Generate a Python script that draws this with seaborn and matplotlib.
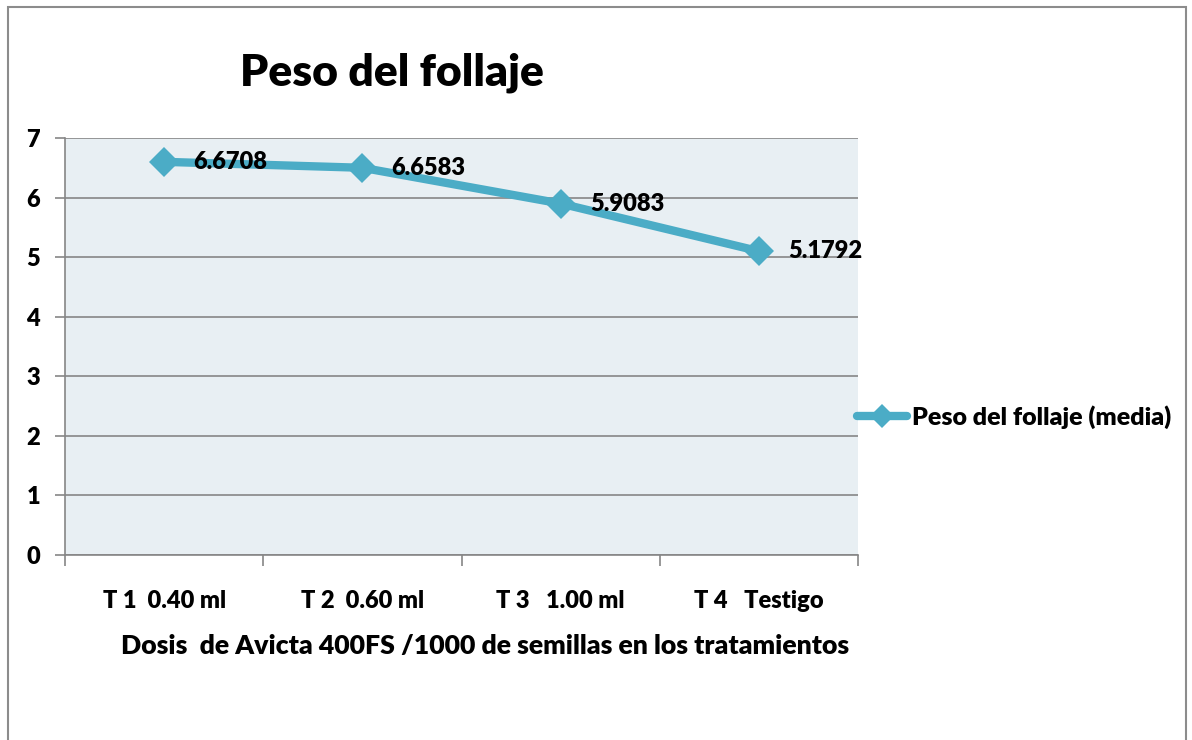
import matplotlib
matplotlib.use('Agg')
import matplotlib.pyplot as plt
import pandas as pd
import seaborn as sns
from matplotlib.patches import Rectangle

# Data (plotted values and the labels shown next to each point)
tratamientos = ['T 1  0.40 ml', 'T 2  0.60 ml', 'T 3   1.00 ml', 'T 4   Testigo']
peso_media = [6.6, 6.5, 5.9, 5.1]
etiquetas = ['6.6708', '6.6583', '5.9083', '5.1792']
y_ticks = [0, 1, 2, 3, 4, 5, 6, 7]

df = pd.DataFrame({'tratamiento': tratamientos, 'peso': peso_media})

sns.set_theme(style='white')
plt.rcParams['font.family'] = ['Lato', 'DejaVu Sans']
W = 'heavy'
plt.rcParams['font.weight'] = W
plt.rcParams['text.color'] = 'black'
plt.rcParams['axes.labelcolor'] = 'black'

color = '#4BACC6'
grey = '#868686'

fig = plt.figure(figsize=(11.92, 7.4), dpi=100)
ax = fig.add_axes([65 / 1192, 1 - 555 / 740, (858 - 65) / 1192, (555 - 138) / 740])
ax.set_facecolor('#E8EFF3')

# Outer chart border (Excel style)
fig.patches.append(Rectangle((8 / 1192, -0.05), (1186 - 8) / 1192, 1.05 - 7 / 740,
                             transform=fig.transFigure, fill=False,
                             edgecolor='#8C8C8C', linewidth=1.5))

sns.lineplot(data=df, x='tratamiento', y='peso', ax=ax, color=color,
             linewidth=6, marker='D', markersize=15, markeredgewidth=0,
             label='Peso del follaje (media)', sort=False)

# Data labels
for i, (v, txt) in enumerate(zip(peso_media, etiquetas)):
    ax.annotate(txt, (i, v), xytext=(21, 0), textcoords='offset points',
                fontsize=17, fontweight=W, va='center', ha='left',
                color='black', annotation_clip=False)

ax.set_xlim(-0.5, 3.5)
ax.set_ylim(0, 7)
ax.set_yticks(y_ticks)
ax.set_yticklabels([str(t) for t in y_ticks], fontsize=17, fontweight=W)
ax.yaxis.grid(True, color=grey, linewidth=1.2)
ax.set_axisbelow(True)

# category boundaries get tick marks, labels sit between them
ax.set_xticks([-0.5, 0.5, 1.5, 2.5, 3.5])
ax.set_xticklabels([])
ax.set_xticks(range(len(tratamientos)), minor=True)
ax.set_xticklabels(tratamientos, minor=True, fontsize=17, fontweight=W)
ax.tick_params(axis='x', which='minor', length=0, pad=25, labelcolor='black')
ax.tick_params(axis='x', which='major', length=8, width=1.2, color=grey, direction='out', bottom=True)
ax.tick_params(axis='y', length=7, width=1.2, color=grey, direction='out', left=True, pad=11,
               labelcolor='black')

for side in ['top', 'right']:
    ax.spines[side].set_visible(False)
for side in ['left', 'bottom']:
    ax.spines[side].set_color(grey)
    ax.spines[side].set_linewidth(1.2)

ax.set_xlabel('Dosis  de Avicta 400FS /1000 de semillas en los tratamientos',
              fontsize=19.2, fontweight=W, labelpad=19, color='black')
ax.xaxis.set_label_coords((485 - 65) / (858 - 65), -0.19)
ax.set_ylabel('')

fig.text(392 / 1192, 1 - 73 / 740, 'Peso del follaje', fontsize=32,
         fontweight=W, ha='center', va='center', color='black')

ax.legend(loc='center left', bbox_to_anchor=(844 / 1192, 1 - 417 / 740),
          bbox_transform=fig.transFigure, frameon=False, handlelength=2.0,
          handletextpad=0.2, prop={'size': 18, 'weight': W}, borderpad=0,
          markerscale=0.8, labelcolor='black')

fig.savefig('out.png', dpi=100)
